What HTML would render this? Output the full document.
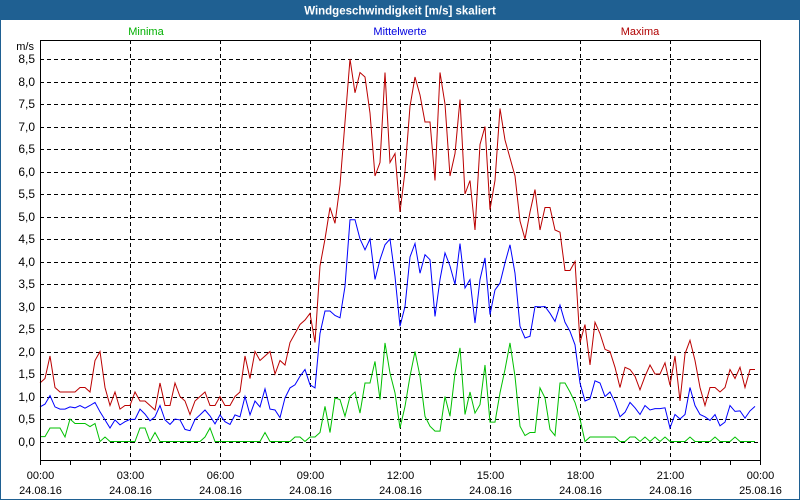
<!DOCTYPE html>
<html><head><meta charset="utf-8"><style>
html,body{margin:0;padding:0;background:#fff}
#wrap{position:relative;width:800px;height:500px;overflow:hidden;font-family:"Liberation Sans",sans-serif}
</style></head><body>
<div id="wrap">
<svg id="c" width="800" height="500" xmlns="http://www.w3.org/2000/svg">
<rect x="0" y="0" width="800" height="500" fill="#fff" stroke="#1f6092" stroke-width="2"/>
<rect x="0" y="0" width="800" height="20" fill="#1f6092"/>
<text x="400" y="14.5" text-anchor="middle" font-size="11.5" font-weight="bold" fill="#fff">Windgeschwindigkeit [m/s] skaliert</text>
<text x="146" y="35" text-anchor="middle" font-size="11" fill="#00b000">Minima</text>
<text x="400" y="35" text-anchor="middle" font-size="11" fill="#0000e0">Mittelwerte</text>
<text x="640" y="35" text-anchor="middle" font-size="11" fill="#b00000">Maxima</text>
<text x="34" y="50" text-anchor="end" font-size="11" fill="#000">m/s</text>
<g id="grid"></g><g id="series"></g><g id="axes"></g>
</svg>
</div>
<script>
const yTicks=[0,0.5,1,1.5,2,2.5,3,3.5,4,4.5,5,5.5,6,6.5,7,7.5,8,8.5];
const xTickHours=[0,3,6,9,12,15,18,21,24];
const xTimeLabels=["00:00","03:00","06:00","09:00","12:00","15:00","18:00","21:00","00:00"];
const xDateLabels=["24.08.16","24.08.16","24.08.16","24.08.16","24.08.16","24.08.16","24.08.16","24.08.16","25.08.16"];
const maxima=[1.3,1.4,1.9,1.2,1.1,1.1,1.1,1.1,1.2,1.2,1.1,1.8,2.0,1.2,0.8,1.1,0.72,0.8,0.8,1.1,0.9,0.9,0.8,0.7,1.3,0.8,0.8,1.3,1.0,0.9,0.6,0.9,1.0,1.1,0.8,0.8,1.0,0.8,0.8,1.0,1.1,1.9,1.4,2.0,1.8,1.9,2.0,1.5,1.8,1.7,2.2,2.4,2.6,2.7,2.85,2.2,3.9,4.5,5.2,4.85,5.7,7.1,8.5,7.75,8.2,8.1,7.3,5.9,6.2,8.2,6.2,6.4,5.1,6.0,7.45,8.1,7.7,7.1,7.1,5.8,8.2,7.5,5.9,6.4,7.6,5.5,5.8,4.7,6.6,7.0,5.15,5.8,7.4,6.7,6.3,5.9,4.9,4.5,5.1,5.6,4.7,5.2,5.2,4.7,4.65,3.8,3.8,4.0,2.2,2.6,1.7,2.65,2.4,2.05,2.0,1.65,1.2,1.65,1.6,1.45,1.15,1.45,1.7,1.5,1.5,1.75,1.25,1.9,0.9,1.95,2.25,1.8,1.2,0.8,1.2,1.2,1.1,1.2,1.6,1.4,1.65,1.2,1.6,1.6];
const mittelwerte=[0.77,0.83,1.02,0.77,0.72,0.72,0.77,0.75,0.8,0.74,0.8,0.87,0.66,0.48,0.3,0.48,0.37,0.44,0.49,0.49,0.72,0.61,0.46,0.55,0.8,0.48,0.38,0.5,0.48,0.27,0.24,0.49,0.59,0.7,0.57,0.39,0.59,0.44,0.38,0.59,0.55,1.0,0.59,0.9,0.77,1.17,0.72,0.7,0.53,0.97,1.19,1.26,1.45,1.6,1.26,1.19,2.4,2.9,2.9,2.8,2.75,3.45,4.93,4.93,4.5,4.26,4.5,3.6,4.04,4.37,4.5,3.67,2.56,3.0,4.1,4.4,3.74,4.15,4.04,2.78,3.6,4.19,3.9,3.49,4.4,3.41,3.6,2.63,3.6,4.08,2.82,3.37,3.52,3.97,4.37,3.74,2.56,2.3,2.34,3.0,2.99,3.0,2.85,2.67,3.03,2.65,2.45,2.15,1.3,0.9,0.95,1.35,1.3,1.0,1.1,0.87,0.55,0.65,0.87,0.75,0.6,0.8,0.7,0.73,0.73,0.75,0.3,0.6,0.5,0.6,1.2,0.8,0.6,0.55,0.47,0.6,0.35,0.43,0.8,0.67,0.68,0.52,0.68,0.78];
const minima=[0.11,0.11,0.3,0.3,0.3,0.1,0.5,0.4,0.4,0.4,0.33,0.4,0,0.1,0,0,0,0,0,0,0.3,0.3,0,0.2,0,0,0,0,0,0,0,0,0,0.1,0.3,0,0,0,0,0,0,0,0,0,0,0.2,0,0,0,0,0,0.1,0.1,0,0.1,0.1,0.2,0.78,0.2,0.97,0.93,0.56,1.0,1.1,0.63,1.3,1.3,1.78,0.93,2.19,1.52,1.08,0.3,0.78,1.45,2.0,1.45,0.56,0.34,0.23,0.23,1.0,0.56,1.52,2.08,0.6,1.1,0.63,0.82,1.7,0.43,0.43,1.08,1.6,2.19,1.45,0.34,0.13,0.2,0.2,1.19,0.97,0.27,0.13,1.3,1.3,1.1,0.87,0.5,0,0.1,0.1,0.1,0.1,0.1,0.1,0,0,0.1,0.1,0,0.1,0,0.1,0,0.1,0,0,0,0,0.1,0,0,0,0,0.1,0,0,0,0.1,0,0,0,0];
const NS="http://www.w3.org/2000/svg";
const X0=40,X1=760,Y0=40,Y1=460;
function xs(h){return X0+h*(X1-X0)/24;}
function ys(v){return 441.5-v*45;}
function mk(tag,attrs,parent){const e=document.createElementNS(NS,tag);for(const k in attrs)e.setAttribute(k,attrs[k]);parent.appendChild(e);return e;}
const grid=document.getElementById('grid'),axes=document.getElementById('axes'),ser=document.getElementById('series');
yTicks.forEach(v=>{
  const l=mk('line',{x1:X0,x2:X1,y1:Math.round(ys(v))+0.5,y2:Math.round(ys(v))+0.5,stroke:'#000','stroke-dasharray':'4,3','stroke-width':1},grid);
  
  
  const t=mk('text',{x:35,y:Math.round(ys(v))+4,'text-anchor':'end','font-size':12,fill:'#000'},axes);
  t.textContent=v.toFixed(1).replace('.',',');
  
  
});
xTickHours.forEach((h,i)=>{
  const x=Math.round(xs(h))+0.5;
  if(h>0&&h<24){
    const l=mk('line',{x1:x,x2:x,y1:Y0,y2:Y1,stroke:'#000','stroke-dasharray':'4,3','stroke-width':1},grid);
    
    
  }
  const t1=mk('text',{x:x,y:479,'text-anchor':'middle','font-size':11,fill:'#000'},axes);
  t1.textContent=xTimeLabels[i];
  
  
  const t2=mk('text',{x:x,y:494,'text-anchor':'middle','font-size':11,fill:'#000'},axes);
  t2.textContent=xDateLabels[i];
  
  
});
for(let h=0;h<=24;h++){
  const x=Math.round(xs(h))+0.5;
  const tk=mk('line',{x1:x,x2:x,y1:Y1,y2:Y1+5,stroke:'#000'},axes);
  
  
}
const box=mk('rect',{x:X0+0.5,y:Y0+0.5,width:X1-X0,height:Y1-Y0,fill:'none',stroke:'#000','stroke-width':1},axes);


function drawSeries(arr,color,name){
  const pts=arr.map((v,i)=>xs(i/6).toFixed(1)+','+ys(v).toFixed(1)).join(' ');
  const p=mk('polyline',{points:pts,fill:'none',stroke:color,'stroke-width':1,'stroke-linejoin':'miter'},ser);
  
  
}
drawSeries(minima,'#00c000','series-minima');
drawSeries(mittelwerte,'#0000ff','series-mittelwerte');
drawSeries(maxima,'#bb0000','series-maxima');
</script>
</body></html>
